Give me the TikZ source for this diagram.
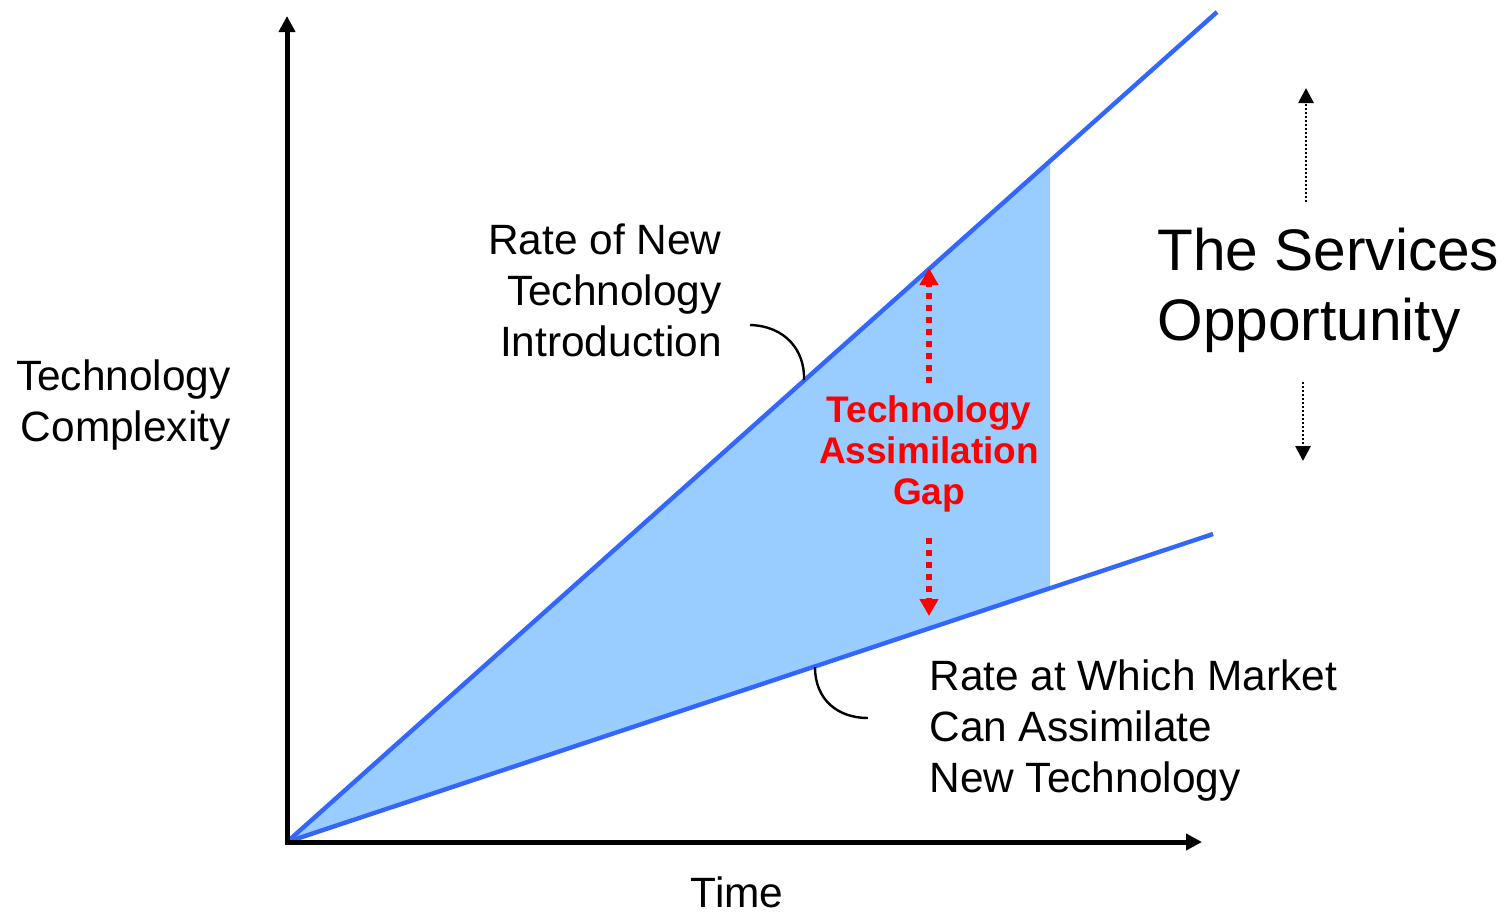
\documentclass[tikz,border=0pt]{standalone}
\usepackage{fontspec}
\setmainfont{Liberation Sans}
\usetikzlibrary{arrows.meta}
\definecolor{lineblue}{HTML}{3366FF}
\definecolor{fillblue}{HTML}{99CCFF}
\definecolor{gapred}{HTML}{FF0000}
\begin{document}
\begin{tikzpicture}[x=0.5pt,y=-0.5pt,
  rateline/.style={line width=2.2pt,draw=lineblue},
  redarrow/.style={draw=gapred,line width=2.6pt,dash pattern=on 3pt off 3pt,-{Triangle[length=8.5pt,width=9pt,fill=gapred]},color=gapred},
  blkarrow/.style={line width=1.4pt,dash pattern=on 1pt off 1pt,-{Triangle[length=7.5pt,width=7.5pt]}},
  lbl/.style={inner sep=0pt,font=\fontsize{21.2}{25.5}\selectfont},
  redlbl/.style={inner sep=0pt,align=center,text=gapred,font=\fontsize{18.5}{20.3}\selectfont\bfseries},
  biglbl/.style={inner sep=0pt,align=left,font=\fontsize{29.3}{35}\selectfont},
  leader/.style={line width=1.2pt}
]
\useasboundingbox (0,0) rectangle (1504,912);
\coordinate (O) at (287,842);
\coordinate (Ytop) at (287,16);
\coordinate (Xend) at (1202,842);
\coordinate (Uend) at (1217,12);
\coordinate (Lend) at (1213,534);
\coordinate (Ucut) at (1050,161);
\coordinate (Lcut) at (1050,588);
% shaded gap
\fill[fillblue] (O) -- (Ucut) -- (Lcut) -- cycle;
% rate lines
\draw[rateline] (O) -- (Uend);
\draw[rateline] (O) -- (Lend);
% axes
\draw[line width=2.5pt,{Triangle[length=8pt,width=8pt]}-{Triangle[length=8pt,width=8pt]},line join=miter] (Ytop) -- (O) -- (Xend);
% labels
\node[lbl,align=right,anchor=east] (ylab) at (231,405) {Technology\\Complexity};
\node[lbl] (xlab) at (737,892) {Time};
\node[lbl,align=right,anchor=east] (upl) at (722,290) {Rate of New\\Technology\\Introduction};
\node[lbl,align=left,anchor=west] (lowl) at (929,731) {Rate at Which Market\\Can Assimilate\\New Technology};
\node[redlbl] (gap) at (929,454) {Technology\\Assimilation\\Gap};
\node[biglbl,anchor=west] (svc) at (1157,290) {The Services\\Opportunity};
% leaders
\coordinate (c1a) at (750,325);
\coordinate (c1b) at (804,380);
\draw[leader] (c1a) .. controls (785,326) and (805,350) .. (c1b);
\coordinate (c2a) at (815,667);
\coordinate (c2b) at (868,718);
\draw[leader] (c2a) .. controls (815,700) and (838,718) .. (c2b);
% red gap arrows
\coordinate (r1s) at (929,383);
\coordinate (r1e) at (929,268);
\coordinate (r2s) at (929,538);
\coordinate (r2e) at (929,616);
\draw[redarrow] (r1s) -- (r1e);
\draw[redarrow] (r2s) -- (r2e);
% black dotted arrows
\coordinate (b1s) at (1306,202);
\coordinate (b1e) at (1306,88);
\coordinate (b2s) at (1303,382);
\coordinate (b2e) at (1303,461);
\draw[blkarrow] (b1s) -- (b1e);
\draw[blkarrow] (b2s) -- (b2e);
\end{tikzpicture}
\end{document}
